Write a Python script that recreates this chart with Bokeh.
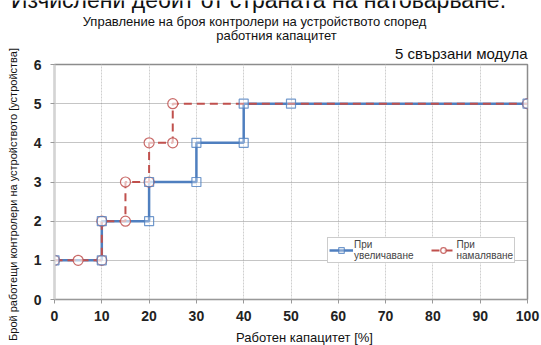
import math
from bokeh.plotting import figure
from bokeh.layouts import column, row
from bokeh.models import Range1d, Label, Legend, LegendItem, FixedTicker, Title
from bokeh.embed import file_html
from bokeh.resources import INLINE

# data
inc_x = [0, 10, 10, 20, 20, 30, 30, 40, 40, 50, 100]
inc_y = [1, 1, 2, 2, 3, 3, 4, 4, 5, 5, 5]
dec_x = [0, 5, 10, 10, 15, 15, 20, 20, 25, 25, 100]
dec_y = [1, 1, 1, 2, 2, 3, 3, 4, 4, 5, 5]
x_ticks = [0, 10, 20, 30, 40, 50, 60, 70, 80, 90, 100]
y_ticks = [0, 1, 2, 3, 4, 5, 6]
top_title = "Изчислени дебит от страната на натоварване."
title_1 = "Управление на броя контролери на устройството според"
title_2 = "работния капацитет"
subtitle = "5 свързани модула"
x_label = "Работен капацитет [%]"
y_label = "Брой работещи контролери на устройството [устройства]"
inc_name = "При\nувеличаване"
dec_name = "При\nнамаляване"

BLUE = "#4f7fbf"
RED = "#c0504d"
FONT = "Liberation Sans"
W, H = 541, 345
HEAD_H = 43      # strip holding the titles
LEFT_W = 20      # strip holding the y label
FOOT_H = 15      # strip holding the x label
MAIN_W = W - LEFT_W
MAIN_H = H - HEAD_H - FOOT_H


def strip(width, height):
    f = figure(width=width, height=height, output_backend="svg", toolbar_location=None,
               x_range=Range1d(0, 1), y_range=Range1d(0, 1),
               x_axis_location=None, y_axis_location=None, min_border=0)
    f.min_border_left = f.min_border_right = f.min_border_top = f.min_border_bottom = 0
    f.outline_line_color = None
    f.xgrid.visible = False
    f.ygrid.visible = False
    f.background_fill_color = "white"
    f.border_fill_color = "white"
    return f


def put(fig, text, x, y, size="13px", align="center", angle=0.0):
    fig.add_layout(Label(x=x, y=y, x_units="canvas", y_units="canvas", text=text,
                         text_align=align, text_baseline="middle", text_font=FONT,
                         text_font_size=size, text_color="#111111", angle=angle))


head = strip(W, HEAD_H)
put(head, top_title, 258, -1, size="23px")
put(head, title_1, 254, 20.5)
put(head, title_2, 276, 34.5)

left = strip(LEFT_W, H - HEAD_H)
put(left, y_label, 12, 194 - HEAD_H, size="11px", angle=math.pi / 2)

foot = strip(MAIN_W, FOOT_H)
put(foot, x_label, 304 - LEFT_W, 7)

# ---- main chart ----
p = figure(width=MAIN_W, height=MAIN_H, output_backend="svg", toolbar_location=None,
           x_range=Range1d(0, 100), y_range=Range1d(0, 6),
           min_border_left=54 - LEFT_W, min_border_right=14, min_border_top=63 - HEAD_H,
           min_border_bottom=MAIN_H - (299 - HEAD_H))

p.background_fill_color = "white"
p.border_fill_color = "white"
p.outline_line_color = "#8c8c8c"
p.outline_line_width = 1.5

p.xaxis.ticker = FixedTicker(ticks=x_ticks)
p.yaxis.ticker = FixedTicker(ticks=y_ticks)
for ax in (p.xaxis, p.yaxis):
    ax.major_label_text_font = FONT
    ax.major_label_text_font_style = "bold"
    ax.major_label_text_font_size = "14px"
    ax.major_label_text_color = "#222222"
    ax.minor_tick_line_color = None
    ax.major_tick_in = 0
    ax.major_tick_out = 4
    ax.major_tick_line_color = "#999999"
p.xaxis.axis_line_color = "#999999"
p.xaxis.axis_line_width = 1.2
p.yaxis.axis_line_color = "#d4d4d4"
p.yaxis.axis_line_width = 2
p.xaxis.major_label_standoff = 7
p.yaxis.major_label_standoff = 9

p.ygrid.grid_line_color = "#8a8a8a"
p.ygrid.grid_line_dash = "1 1"
p.ygrid.grid_line_width = 1
p.xgrid.grid_line_color = "#cfcfcf"
p.xgrid.grid_line_dash = "2 1"
p.xgrid.grid_line_width = 1

r_inc_line = p.line(inc_x, inc_y, line_color=BLUE, line_width=2.5)
r_dec_line = p.line(dec_x, dec_y, line_color=RED, line_width=2, line_dash="8 5")
r_dec_pts = p.scatter(dec_x, dec_y, marker="circle", size=10, fill_color="white",
                      fill_alpha=0.6, line_color=RED, line_width=1.2, line_alpha=0.85)
r_inc_pts = p.scatter(inc_x, inc_y, marker="square", size=9, fill_color="white",
                      fill_alpha=0.3, line_color=BLUE, line_width=1.2, line_alpha=0.8)

legend = Legend(items=[LegendItem(label=inc_name, renderers=[r_inc_line, r_inc_pts]),
                       LegendItem(label=dec_name, renderers=[r_dec_line, r_dec_pts])],
                orientation="horizontal", location=(273, 36),
                label_text_font=FONT, label_text_font_size="10px", label_text_line_height=0.8,
                label_standoff=1, glyph_width=24, glyph_height=14, spacing=18,
                padding=1, margin=0, border_line_color="#9a9a9a", border_line_width=1,
                background_fill_color="white", background_fill_alpha=1.0)
p.add_layout(legend, "center")

p.add_layout(Title(text=subtitle, align="right", offset=0, vertical_align="top", standoff=2,
                   text_font=FONT, text_font_size="15px", text_font_style="normal",
                   text_color="#111111"), "above")

page = column(head, row(left, column(p, foot, spacing=0), spacing=0), spacing=0)
open("out.html", "w").write(file_html(page, INLINE))
